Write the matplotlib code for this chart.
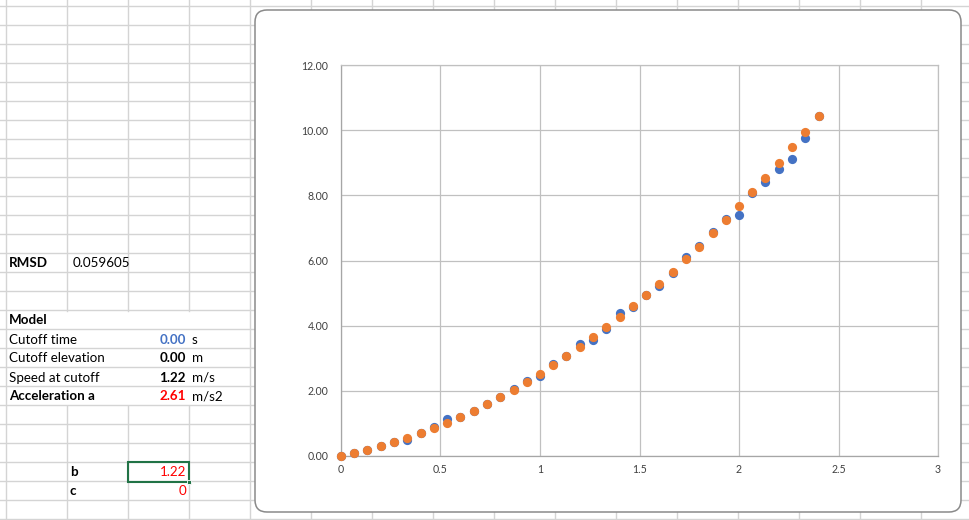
import matplotlib.pyplot as plt
from matplotlib.patches import FancyBboxPatch, Rectangle

plt.rcParams['font.family'] = ['Lato', 'DejaVu Sans']

# measured data (blue) and model (orange)
time_s = [0.000, 0.067, 0.133, 0.200, 0.267, 0.333, 0.400, 0.467, 0.533, 0.600,
          0.667, 0.733, 0.800, 0.867, 0.933, 1.000, 1.067, 1.133, 1.200, 1.267,
          1.333, 1.400, 1.467, 1.533, 1.600, 1.667, 1.733, 1.800, 1.867, 1.933,
          2.000, 2.067, 2.133, 2.200, 2.267, 2.333, 2.400]
measured = [0.00, 0.09, 0.19, 0.32, 0.44, 0.49, 0.72, 0.88, 1.14, 1.20,
            1.37, 1.60, 1.81, 2.07, 2.30, 2.47, 2.82, 3.06, 3.44, 3.55,
            3.89, 4.39, 4.58, 4.94, 5.21, 5.61, 6.10, 6.46, 6.88, 7.26,
            7.41, 8.07, 8.42, 8.80, 9.10, 9.75, 10.42]
model = [0.00, 0.09, 0.19, 0.30, 0.42, 0.55, 0.70, 0.85, 1.02, 1.20,
         1.39, 1.60, 1.81, 2.04, 2.28, 2.53, 2.79, 3.06, 3.34, 3.64,
         3.95, 4.27, 4.60, 4.94, 5.29, 5.66, 6.04, 6.42, 6.83, 7.24,
         7.66, 8.10, 8.54, 9.00, 9.47, 9.95, 10.45]

x_ticks = [0, 0.5, 1, 1.5, 2, 2.5, 3]
y_ticks = [0, 2, 4, 6, 8, 10, 12]

BLUE = '#4472C4'
ORANGE = '#ED7D31'
GRID = '#d4d4d4'

fig = plt.figure(figsize=(9.7, 5.2), dpi=100)

# spreadsheet background, pixel coordinates
bg = fig.add_axes([0, 0, 1, 1])
bg.set_xlim(0, 970)
bg.set_ylim(520, 0)
bg.axis('off')

row_lines = [6 + 19 * k for k in range(28)]
col_lines = [6 + 61 * k for k in range(17)]
for y in row_lines:
    bg.plot([0, 970], [y, y], color=GRID, lw=1, zorder=1)
for x in col_lines:
    if x in (67, 128, 189):
        # text rows hide the inner column lines
        bg.plot([x, x], [0, 310.5], color=GRID, lw=1, zorder=1)
        bg.plot([x, x], [405.5, 520], color=GRID, lw=1, zorder=1)
    else:
        bg.plot([x, x], [0, 520], color=GRID, lw=1, zorder=1)

fs = 9.6
bg.text(9, 263, 'RMSD', fontsize=fs, fontweight='bold', va='center')
bg.text(73, 263, '0.059605', fontsize=fs, va='center')
bg.text(9, 320.5, 'Model', fontsize=fs, fontweight='bold', va='center')

labels = ['Cutoff time', 'Cutoff elevation', 'Speed at cutoff', 'Acceleration a']
values = ['0.00', '0.00', '1.22', '2.61']
units = ['s', 'm', 'm/s', 'm/s2']
val_colors = [BLUE, 'black', 'black', '#FF0000']
for i in range(4):
    y = 339.5 + 19 * i
    bg.text(9, y, labels[i], fontsize=fs, va='center',
            fontweight='bold' if i == 3 else 'normal')
    bg.text(186, y, values[i], fontsize=fs, va='center', ha='right',
            fontweight='bold', color=val_colors[i])
    bg.text(192, y, units[i], fontsize=fs, va='center')

bg.text(70, 472, 'b', fontsize=fs, fontweight='bold', va='center')
bg.text(186, 472, '1.22', fontsize=fs, va='center', ha='right', color='#FF0000')
bg.text(70, 491, 'c', fontsize=fs, fontweight='bold', va='center')
bg.text(186, 491, '0', fontsize=fs, va='center', ha='right', color='#FF0000')

bg.add_patch(Rectangle((128.5, 462), 61, 19.5, fill=False, edgecolor='#217346',
                       lw=1.5, zorder=3))
bg.add_patch(Rectangle((187, 479.5), 4.5, 4.5, facecolor='#217346',
                       edgecolor='white', lw=0.6, zorder=4))

# chart object frame
bg.add_patch(FancyBboxPatch((265, 20), 686, 482, boxstyle='round,pad=10,rounding_size=12',
                            facecolor='white', edgecolor='#8a8a8a', lw=1.1, zorder=5))

# plot area
ax = fig.add_axes([341 / 970, 1 - 456 / 520, (938 - 341) / 970, (456 - 65) / 520])
ax.set_zorder(10)
ax.set_facecolor('none')
ax.scatter(time_s, measured, s=44, color=BLUE, zorder=3, linewidths=0, clip_on=False)
ax.scatter(time_s, model, s=44, color=ORANGE, zorder=4, linewidths=0, clip_on=False)

ax.set_xlim(0, 3)
ax.set_ylim(0, 12)
ax.set_xticks(x_ticks)
ax.set_xticklabels(['0', '0.5', '1', '1.5', '2', '2.5', '3'])
ax.set_yticks(y_ticks)
ax.set_yticklabels([f'{v:.2f}' for v in y_ticks])
ax.grid(True, color='#c0c0c0', lw=0.9)
ax.set_axisbelow(True)
for side in ['top', 'right']:
    ax.spines[side].set_color('#c0c0c0')
    ax.spines[side].set_linewidth(0.9)
for side in ['left', 'bottom']:
    ax.spines[side].set_color('#a6a6a6')
    ax.spines[side].set_linewidth(0.9)
ax.tick_params(length=0, labelsize=7.6, colors='#404040')
ax.tick_params(axis='y', pad=9)
ax.tick_params(axis='x', pad=6)

fig.savefig('out.png', dpi=100)
